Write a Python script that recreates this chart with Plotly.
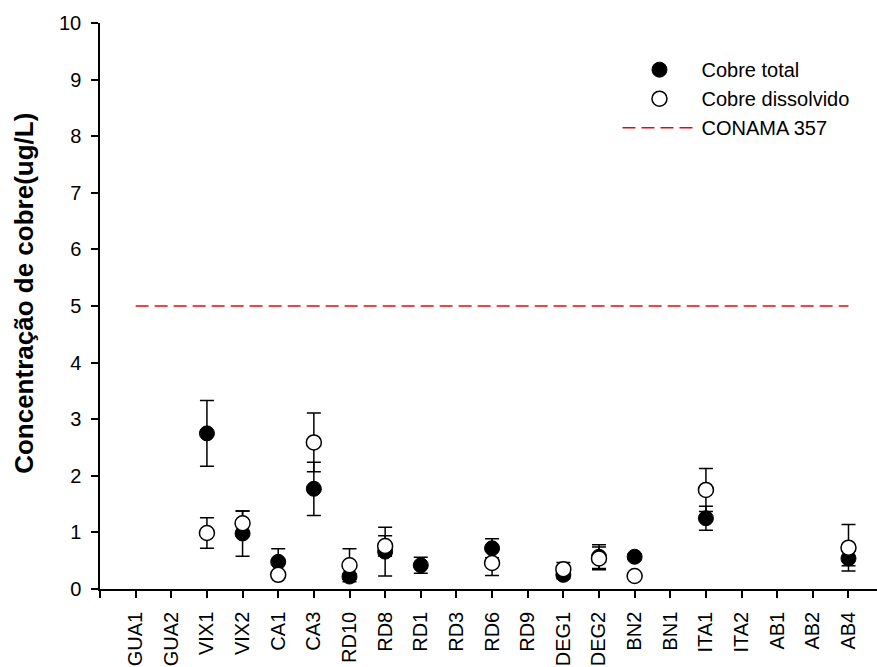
import plotly.graph_objects as go

categories = ["GUA1", "GUA2", "VIX1", "VIX2", "CA1", "CA3", "RD10", "RD8", "RD1", "RD3", "RD6",
              "RD9", "DEG1", "DEG2", "BN2", "BN1", "ITA1", "ITA2", "AB1", "AB2", "AB4"]

total_vals = [None, None, 2.75, 0.98, 0.48, 1.77, 0.22, 0.66, 0.42, None, 0.72,
              None, 0.25, 0.57, 0.57, None, 1.25, None, None, None, 0.54]
total_err = [None, None, 0.58, 0.40, 0.23, 0.47, 0.05, 0.43, 0.14, None, 0.17,
             None, 0.07, 0.21, 0.05, None, 0.21, None, None, None, 0.13]

diss_vals = [None, None, 0.99, 1.16, 0.25, 2.59, 0.42, 0.76, None, None, 0.46,
             None, 0.35, 0.54, 0.23, None, 1.75, None, None, None, 0.73]
diss_err = [None, None, 0.27, 0.22, 0.02, 0.52, 0.29, 0.18, None, None, 0.22,
            None, 0.12, 0.20, 0.0, None, 0.38, None, None, None, 0.41]

conama_limit = 5
y_ticks = list(range(0, 11))
y_title = "Concentração de cobre(ug/L)"

idx = list(range(len(categories)))
font_family = "Liberation Sans, Arial, sans-serif"

fig = go.Figure()

fig.add_trace(go.Scatter(
    x=idx, y=total_vals, mode="markers", name="Cobre total",
    marker=dict(symbol="circle", size=15, color="black", line=dict(color="black", width=1)),
    error_y=dict(type="data", array=total_err, visible=True, color="black", thickness=1.5, width=7),
))
fig.add_trace(go.Scatter(
    x=idx, y=diss_vals, mode="markers", name="Cobre dissolvido",
    marker=dict(symbol="circle", size=15, color="white", line=dict(color="black", width=1.5)),
    error_y=dict(type="data", array=diss_err, visible=True, color="black", thickness=1.5, width=7),
))
fig.add_trace(go.Scatter(
    x=[idx[0], idx[-1]], y=[conama_limit, conama_limit], mode="lines", name="CONAMA 357",
    line=dict(color="#ff0000", width=1.5, dash="13px,6px"),
))

fig.update_layout(
    width=877, height=667,
    margin=dict(l=100, r=0, t=23, b=78),
    paper_bgcolor="white", plot_bgcolor="white",
    font=dict(family=font_family, size=20, color="black"),
    showlegend=True,
    legend=dict(x=0.666, y=0.952, xanchor="left", yanchor="top",
                bgcolor="rgba(0,0,0,0)", font=dict(size=20), itemwidth=74,
                tracegroupgap=0),
)

fig.add_annotation(
    text="<b>" + y_title + "</b>", textangle=-90,
    xref="paper", yref="paper", x=-0.098, y=0.523,
    xanchor="center", yanchor="middle", showarrow=False,
    font=dict(size=26, family=font_family, color="black"),
)

fig.update_xaxes(
    range=[-1, 20.8], automargin=False,
    tickmode="array", tickvals=[-1] + idx, ticktext=[""] + categories,
    tickangle=-90, ticks="outside", ticklen=7, tickwidth=1.5, tickcolor="black",
    showline=True, linecolor="black", linewidth=1.5,
    showgrid=False, zeroline=False,
    tickfont=dict(size=20, family=font_family),
    ticklabelstandoff=6,
)
fig.update_yaxes(
    range=[0, 10], automargin=False,
    tickmode="array", tickvals=y_ticks, ticktext=[str(v) for v in y_ticks],
    ticks="outside", ticklen=7, tickwidth=1.5, tickcolor="black",
    showline=True, linecolor="black", linewidth=1.5,
    showgrid=False, zeroline=False,
    tickfont=dict(size=20, family=font_family),
    ticklabelstandoff=6,
)

fig.write_html("out.html", config={"displayModeBar": False},
               post_script="document.body.style.margin='0';")
